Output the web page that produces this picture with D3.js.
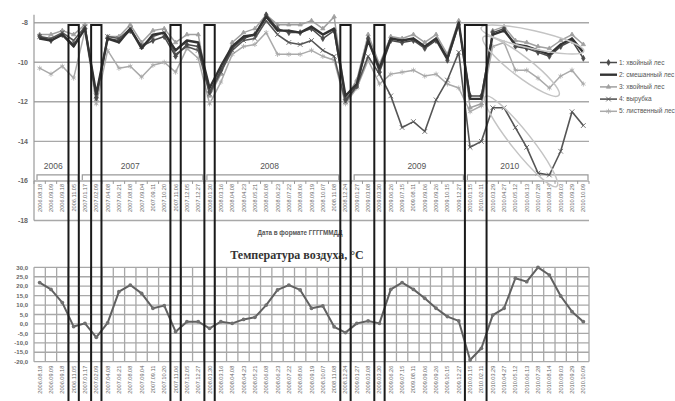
<!DOCTYPE html>
<html><head><meta charset="utf-8">
<script src="https://cdn.jsdelivr.net/npm/d3@7"></script>
<style>body{margin:0;background:#fff}svg{display:block}</style>
</head><body><svg id="c" width="675" height="401"></svg>
<script>
const dates = ["2006.08.18","2006.09.09","2006.09.18","2006.11.05","2007.01.17","2007.02.09","2007.04.08","2007.06.21","2007.08.08","2007.09.04","2007.09.11","2007.10.20","2007.11.06","2007.12.05","2007.12.27","2008.01.30","2008.03.16","2008.04.08","2008.04.23","2008.05.21","2008.06.08","2008.06.23","2008.07.22","2008.08.06","2008.09.19","2008.10.07","2008.11.08","2008.12.24","2009.01.27","2009.03.08","2009.03.30","2009.06.26","2009.07.15","2009.08.11","2009.09.06","2009.09.26","2009.10.15","2009.12.27","2010.01.15","2010.02.11","2010.03.29","2010.04.27","2010.05.12","2010.06.13","2010.07.28","2010.08.14","2010.09.03","2010.09.29","2010.10.09"];
const s1 = [-8.7,-8.9,-8.6,-9.1, -8.3,-11.8,-8.8,-8.9,-8.4,-9.2, -8.9,-8.7,-9.7,-9.1,-9.2, -11.5,-10.4,-9.3,-8.8,-8.6, -7.6,-8.3,-8.5,-8.5,-8.3,-8.8,-8.4, -11.9,-11.2,-8.8,-10.5, -8.9,-9.0,-8.9,-9.3,-8.9,-9.9,-8.1, -11.7,-11.7, -8.5,-8.3,-9.2,-9.3,-9.5,-9.7,-9.2,-8.9,-9.8];
const s2 = [-8.8,-8.9,-8.6,-9.2, -8.3,-11.6,-8.8,-9.0,-8.3,-9.3, -8.6,-8.5,-9.4,-8.9,-9.0, -11.3,-10.2,-9.2,-8.7,-8.6, -7.7,-8.4,-8.4,-8.5,-8.2,-8.6,-8.3, -11.7,-11.1,-8.9,-10.3, -8.8,-8.9,-8.8,-9.2,-8.8,-9.8,-8.0, -11.85,-11.85, -8.6,-8.4,-9.1,-9.2,-9.4,-9.6,-9.1,-8.8,-9.5];
const s3 = [-8.6,-8.6,-8.4,-8.6, -8.1,-11.9,-8.7,-8.7,-8.1,-9.0, -8.4,-8.3,-9.0,-8.6,-8.6, -11.7,-10.6,-9.0,-8.5,-8.3, -7.6,-8.1,-8.1,-8.1,-7.9,-8.3,-7.7, -11.8,-10.9,-8.6,-10.1, -8.7,-8.8,-8.6,-9.0,-8.6,-9.6,-7.9, -12.3,-12.1, -8.4,-8.2,-8.9,-9.0,-9.2,-9.3,-8.9,-8.6,-9.1];
const s4 = [-8.7,-8.8,-8.5,-8.9, -8.2,-11.7,-8.7,-8.8,-8.3,-9.2, -8.7,-8.5,-9.6,-9.2,-9.4, -11.6,-10.5,-9.4,-8.9,-8.8, -7.9,-8.6,-9.0,-9.1,-8.9,-9.4,-9.7, -12.0,-11.2,-9.7,-10.6, -11.7,-13.3,-13.0,-13.5,-11.9,-10.9,-9.5, -14.3,-14.0, -12.3,-12.3,-13.3,-14.3,-15.6,-15.7,-14.5,-12.5,-13.2];
const s5 = [-10.3,-10.6,-10.2,-10.8, -8.4,-12.1,-9.4,-10.3,-10.2,-10.75, -10.15,-10.0,-10.5,-9.3,-9.8, -12.1,-11.0,-9.6,-9.2,-9.1, -8.5,-9.6,-9.6,-9.6,-9.4,-9.7,-9.9, -12.1,-11.3,-9.9,-11.1, -10.6,-10.5,-10.4,-10.7,-10.6,-11.1,-11.3, -12.5,-12.2, -9.2,-9.0,-10.4,-10.4,-10.8,-11.3,-10.7,-10.4,-11.1];
const temp = [21.9,18.3,11.3,-1.4, 0.3,-7.1,0.6,17.1,20.6,16.2, 8.3,9.7,-4.1,1.2,1.2, -2.3,1.2,0.3,2.4,3.5, 10.0,18.0,20.6,18.0,8.3,9.5,-1.5, -4.6,0.3,1.6,0.3, 18.3,21.9,18.3,13.6,8.3,3.9,1.6, -19.1,-12.9, 4.7,8.3,24.2,22.4,30.0,25.9,14.8,6.5,1.2];
const seriesNames = ["1: хвойный лес","2: смешанный лес","3: хвойный лес","4: вырубка","5: лиственный лес"];
const topTicks = [-8,-10,-12,-14,-16,-18];
const tempTicks = [30,25,20,15,10,5,0,-5,-10,-15,-20];
const years = ["2006","2007","2008","2009","2010"];
const yearStart = [0,4,15,28,38];
const yearEnd = [3,14,26,37,48];
const yearLabelAt = [1.2,8.0,20.3,33.3,41.5];
const boxStart = [3,5,12,15,27,30,38];
const boxEnd = [3,5,12,15,27,30,39];
// annotation ellipses in 2010: [fromIndex, toIndex, fromValue, toValue]
const ellFrom = [40,40,40];
const ellTo = [47,45,45];
const ellV0 = [-8.4,-9.1,-12.2];
const ellV1 = [-9.3,-11.3,-15.8];

const svg = d3.select("#c");
svg.append("rect").attr("width",675).attr("height",401).attr("fill","#fff");
const idx = d3.range(dates.length);
const x = d3.scaleBand().domain(idx).range([34,589]).padding(0);
const bw = x.bandwidth();
const cx = i => x(i) + bw/2;
const cxf = f => 34 + (f+0.5)*bw;
const y = d3.scaleLinear().domain([-18,-8]).range([220.5,22.7]);
const yt = d3.scaleLinear().domain([-20,30]).range([361.7,267.3]);
const grid = "#a8a8a8";

// ---- top chart ----
const gTop = svg.append("g");
gTop.selectAll("line.hg").data(topTicks).join("line")
  .attr("x1",34).attr("x2",589).attr("y1",d=>y(d)).attr("y2",d=>y(d))
  .attr("stroke",grid).attr("stroke-width",1.4);
gTop.append("line").attr("x1",34).attr("x2",34).attr("y1",y(-7.6)).attr("y2",y(-18))
  .attr("stroke","#999").attr("stroke-width",1.2);
gTop.selectAll("text.yl").data(topTicks).join("text")
  .attr("x",28).attr("y",d=>y(d)+2.5).attr("text-anchor","end")
  .attr("font-family","Liberation Sans, Arial").attr("font-size",7).attr("font-weight","bold").attr("fill","#666")
  .text(d=>"-"+Math.abs(d));
gTop.selectAll("line.tk").data(d3.range(dates.length+1)).join("line")
  .attr("x1",i=>34+i*bw).attr("x2",i=>34+i*bw).attr("y1",y(-16)).attr("y2",y(-16)+3)
  .attr("stroke","#999").attr("stroke-width",1);
gTop.selectAll("text.xl").data(idx).join("text")
  .attr("transform",i=>`translate(${cx(i)+2},${y(-16)+3}) rotate(-90)`)
  .attr("text-anchor","end").attr("font-family","Liberation Sans, Arial").attr("font-size",5.6).attr("fill","#666")
  .text(i=>dates[i]);
years.forEach((yr,k)=>{
  const x0 = x(yearStart[k])+3, x1 = x(yearEnd[k])+bw-1, yy = y(-16)-6;
  gTop.append("path").attr("d",`M${x0},${yy+5}V${yy}H${x1}V${yy+5}`)
    .attr("fill","none").attr("stroke","#999").attr("stroke-width",1.2);
  gTop.append("text").attr("x",cxf(yearLabelAt[k])).attr("y",yy-6).attr("text-anchor","middle")
    .attr("font-family","Liberation Sans, Arial").attr("font-size",8.5).attr("fill","#555").text(yr);
});
gTop.append("text").attr("x",300).attr("y",235).attr("text-anchor","middle")
  .attr("font-family","Liberation Sans, Arial").attr("font-size",6.3).attr("font-weight","bold").attr("fill","#555")
  .text("Дата в формате ГГГГММДД");

const styles = [
  {data:s5,color:"#aaa",w:1.5,sym:d3.symbolAsterisk,size:18},
  {data:s3,color:"#a0a0a0",w:1.5,sym:d3.symbolTriangle,size:8},
  {data:s4,color:"#555",w:1.6,sym:d3.symbolTimes,size:16},
  {data:s1,color:"#4a4a4a",w:1.5,sym:d3.symbolDiamond,size:10},
  {data:s2,color:"#333",w:2.4,sym:null,size:0}
];
const line = d3.line().x((d,i)=>cx(i)).y(d=>y(d));
styles.forEach(st=>{
  gTop.append("path").datum(st.data).attr("d",line).attr("fill","none")
    .attr("stroke",st.color).attr("stroke-width",st.w).attr("stroke-linejoin","round");
  if(st.sym){
    gTop.selectAll(null).data(st.data).join("path")
      .attr("transform",(d,i)=>`translate(${cx(i)},${y(d)})`)
      .attr("d",d3.symbol(st.sym,st.size)).attr("fill",st.color).attr("stroke",st.color).attr("stroke-width",0.8);
  }
});
ellFrom.forEach((f,k)=>{
  const xa = cx(f), xb = cx(ellTo[k]), ya = y(ellV0[k]), yb = y(ellV1[k]);
  const mx=(xa+xb)/2, my=(ya+yb)/2;
  const len = Math.hypot(xb-xa,yb-ya)/2+12;
  const ang = Math.atan2(yb-ya,xb-xa)*180/Math.PI;
  gTop.append("ellipse").attr("cx",0).attr("cy",0).attr("rx",len).attr("ry",k==0?9:10)
    .attr("transform",`translate(${mx},${my}) rotate(${ang})`)
    .attr("fill","none").attr("stroke","#c4c4c4").attr("stroke-width",1.5);
});

const leg = svg.append("g");
const legStyles = [styles[3],styles[4],styles[1],styles[2],styles[0]];
seriesNames.forEach((n,k)=>{
  const st = legStyles[k], ly = 62.5 + k*12.2;
  leg.append("line").attr("x1",600).attr("x2",617).attr("y1",ly).attr("y2",ly)
    .attr("stroke",st.color).attr("stroke-width",st.w);
  if(st.sym) leg.append("path").attr("transform",`translate(608.5,${ly})`).attr("d",d3.symbol(st.sym,st.size))
    .attr("fill",st.color).attr("stroke",st.color).attr("stroke-width",0.8);
  leg.append("text").attr("x",619).attr("y",ly+2).attr("font-family","Liberation Sans, Arial")
    .attr("font-size",6.5).attr("fill","#555").text(n);
});

// ---- bottom chart ----
const gBot = svg.append("g");
gBot.append("text").attr("x",297).attr("y",259).attr("text-anchor","middle")
  .attr("font-family","Liberation Serif, Times New Roman").attr("font-size",12).attr("font-weight","bold").attr("fill","#333")
  .text("Температура воздуха, °С");
gBot.selectAll("line.hg").data(tempTicks).join("line")
  .attr("x1",34).attr("x2",589).attr("y1",d=>yt(d)).attr("y2",d=>yt(d))
  .attr("stroke",grid).attr("stroke-width",1.3);
gBot.selectAll("line.vg").data(d3.range(dates.length+1)).join("line")
  .attr("x1",i=>34+i*bw).attr("x2",i=>34+i*bw).attr("y1",yt(30)).attr("y2",yt(-20))
  .attr("stroke",grid).attr("stroke-width",1.3);
gBot.selectAll("text.yl").data(tempTicks).join("text")
  .attr("x",28).attr("y",d=>yt(d)+2.2).attr("text-anchor","end")
  .attr("font-family","Liberation Sans, Arial").attr("font-size",6).attr("font-weight","bold").attr("fill","#666")
  .text(d=>d.toFixed(1).replace(".",","));
gBot.selectAll("text.xl").data(idx).join("text")
  .attr("transform",i=>`translate(${cx(i)+2},${yt(-20)+4}) rotate(-90)`)
  .attr("text-anchor","end").attr("font-family","Liberation Sans, Arial").attr("font-size",5.6).attr("fill","#666")
  .text(i=>dates[i]);
const tline = d3.line().x((d,i)=>cx(i)).y(d=>yt(d));
gBot.append("path").datum(temp).attr("d",tline).attr("fill","none").attr("stroke","#606060").attr("stroke-width",2).attr("stroke-linejoin","round");
gBot.selectAll("circle.p").data(temp).join("circle").attr("cx",(d,i)=>cx(i)).attr("cy",d=>yt(d)).attr("r",1.9).attr("fill","#707070");

svg.selectAll("rect.box").data(boxStart).join("rect")
  .attr("x",(d,k)=>x(d)+0.5).attr("y",25).attr("width",(d,k)=>x(boxEnd[k])+bw-x(d)-1).attr("height",400)
  .attr("fill","none").attr("stroke","#1a1a1a").attr("stroke-width",2);
</script></body></html>
